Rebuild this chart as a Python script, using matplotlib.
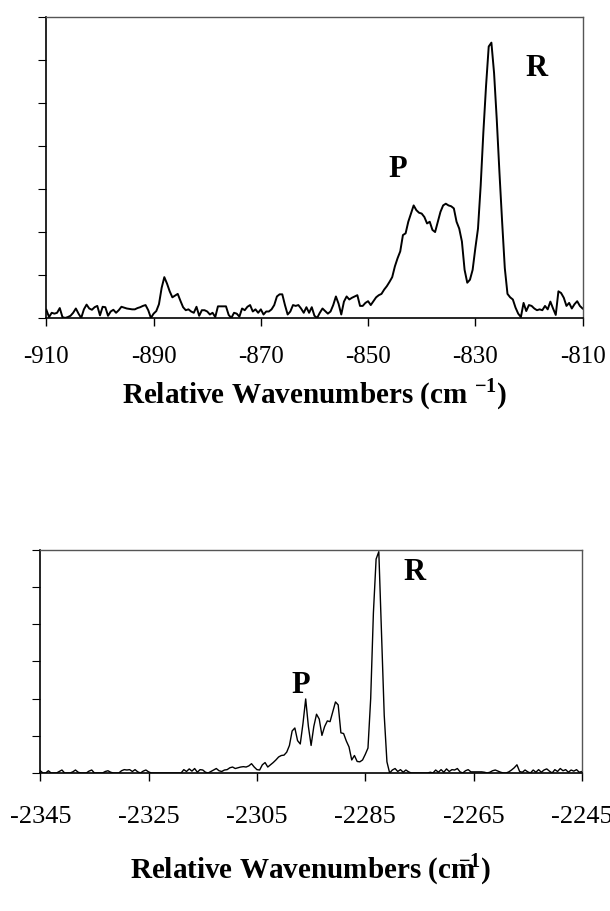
'''
two rovibrational band spectra, P and R branches
stacked panels, relative wavenumber axis
'''
import numpy as np
import matplotlib
matplotlib.use("Agg")
from matplotlib import pyplot as plt

plt.rcParams['font.family'] = ['Liberation Serif', 'DejaVu Serif']
plt.rcParams['mathtext.fontset'] = 'custom'
plt.rcParams['mathtext.rm'] = 'Liberation Serif'
plt.rcParams['mathtext.bf'] = 'Liberation Serif:bold'

# ---- upper band (-910 .. -810 cm-1), 0.5 cm-1 steps
top_start, top_stop, top_step = -910.0, -810.0, 0.5
top_vals = [
    0.19, 0.02, 0.12, 0.10, 0.12, 0.23, 0.02, 0.00, 0.02, 0.05,
    0.12, 0.22, 0.10, 0.00, 0.20, 0.31, 0.22, 0.19, 0.25, 0.28,
    0.06, 0.26, 0.25, 0.05, 0.15, 0.19, 0.12, 0.18, 0.26, 0.24,
    0.22, 0.21, 0.20, 0.20, 0.23, 0.25, 0.28, 0.30, 0.18, 0.00,
    0.10, 0.16, 0.32, 0.70, 0.95, 0.80, 0.62, 0.48, 0.52, 0.56,
    0.40, 0.25, 0.18, 0.20, 0.15, 0.12, 0.26, 0.05, 0.18, 0.18,
    0.15, 0.08, 0.12, 0.02, 0.27, 0.27, 0.27, 0.27, 0.07, 0.00,
    0.12, 0.10, 0.03, 0.22, 0.18, 0.26, 0.30, 0.15, 0.20, 0.12,
    0.20, 0.08, 0.15, 0.15, 0.20, 0.30, 0.50, 0.55, 0.55, 0.30,
    0.08, 0.15, 0.30, 0.28, 0.30, 0.22, 0.12, 0.25, 0.12, 0.25,
    0.05, 0.00, 0.12, 0.22, 0.16, 0.10, 0.15, 0.30, 0.50, 0.33,
    0.08, 0.38, 0.50, 0.43, 0.47, 0.50, 0.53, 0.28, 0.28, 0.35,
    0.39, 0.30, 0.39, 0.48, 0.53, 0.56, 0.66, 0.74, 0.84, 0.95,
    1.20, 1.39, 1.55, 1.93, 1.97, 2.24, 2.43, 2.62, 2.51, 2.45,
    2.43, 2.35, 2.20, 2.24, 2.05, 2.00, 2.24, 2.47, 2.62, 2.66,
    2.62, 2.60, 2.55, 2.24, 2.08, 1.78, 1.12, 0.82, 0.89, 1.12,
    1.62, 2.08, 3.08, 4.32, 5.40, 6.32, 6.41, 5.70, 4.62, 3.39,
    2.24, 1.16, 0.56, 0.48, 0.43, 0.24, 0.10, 0.02, 0.35, 0.16,
    0.30, 0.28, 0.22, 0.18, 0.20, 0.18, 0.28, 0.20, 0.38, 0.22,
    0.07, 0.62, 0.58, 0.47, 0.28, 0.35, 0.22, 0.32, 0.39, 0.28,
    0.22,
]
top_ticks = [-910, -890, -870, -850, -830, -810]

# ---- lower band (-2345 .. -2245 cm-1), 0.5 cm-1 steps
bot_start, bot_stop, bot_step = -2345.0, -2245.0, 0.5
bot_vals = [
    0.06, 0.00, 0.00, 0.06, 0.00, 0.00, 0.00, 0.04, 0.08, 0.00,
    0.00, 0.00, 0.03, 0.08, 0.02, 0.00, 0.00, 0.00, 0.05, 0.08,
    0.00, 0.00, 0.00, 0.00, 0.04, 0.06, 0.02, 0.00, 0.00, 0.00,
    0.06, 0.09, 0.08, 0.09, 0.04, 0.09, 0.03, 0.00, 0.05, 0.08,
    0.03, 0.00, 0.00, 0.00, 0.00, 0.00, 0.00, 0.00, 0.00, 0.00,
    0.00, 0.00, 0.00, 0.09, 0.04, 0.11, 0.05, 0.12, 0.02, 0.09,
    0.08, 0.02, 0.00, 0.04, 0.08, 0.12, 0.06, 0.04, 0.08, 0.09,
    0.14, 0.16, 0.12, 0.14, 0.16, 0.17, 0.16, 0.19, 0.25, 0.16,
    0.09, 0.08, 0.22, 0.28, 0.16, 0.22, 0.28, 0.35, 0.43, 0.47,
    0.48, 0.56, 0.74, 1.13, 1.21, 0.87, 0.78, 1.33, 1.99, 1.25,
    0.74, 1.25, 1.58, 1.45, 1.01, 1.25, 1.40, 1.38, 1.64, 1.91,
    1.83, 1.08, 1.06, 0.86, 0.70, 0.35, 0.47, 0.31, 0.30, 0.35,
    0.50, 0.67, 2.00, 4.30, 5.75, 5.95, 3.75, 1.55, 0.30, 0.00,
    0.08, 0.12, 0.04, 0.09, 0.02, 0.08, 0.03, 0.00, 0.00, 0.00,
    0.00, 0.00, 0.00, 0.00, 0.02, 0.00, 0.08, 0.02, 0.09, 0.02,
    0.11, 0.04, 0.09, 0.08, 0.12, 0.03, 0.00, 0.06, 0.09, 0.03,
    0.03, 0.03, 0.03, 0.03, 0.02, 0.00, 0.02, 0.06, 0.08, 0.05,
    0.02, 0.00, 0.00, 0.03, 0.08, 0.14, 0.22, 0.04, 0.02, 0.08,
    0.03, 0.00, 0.08, 0.02, 0.09, 0.02, 0.08, 0.11, 0.05, 0.00,
    0.09, 0.04, 0.12, 0.06, 0.09, 0.02, 0.08, 0.05, 0.09, 0.02,
    0.04,
]
bot_ticks = [-2345, -2325, -2305, -2285, -2265, -2245]

xlabel_top = r'Relative Wavenumbers (cm $^{\mathbf{-1}}$)'
xlabel_bot = r'Relative Wavenumbers (cm$^{\!\!\!\!\!\mathbf{-1}}$)'

x_top = np.arange(top_start, top_stop + top_step / 2, top_step)
x_bot = np.arange(bot_start, bot_stop + bot_step / 2, bot_step)


def style_axes(ax, xlim, xticks, ymax, pad, fs):
    ax.set_xlim(xlim)
    ax.set_ylim(0, ymax)
    ax.set_xticks(xticks)
    ax.set_xticklabels([str(t) for t in xticks], fontsize=fs)
    ax.set_yticks(range(0, ymax + 1))
    ax.set_yticklabels([])
    ax.tick_params(axis='x', direction='out', length=6, width=1, pad=pad)
    ax.tick_params(axis='y', direction='out', length=6, width=0.8)
    for s in ['left', 'bottom']:
        ax.spines[s].set_linewidth(1.2)
        ax.spines[s].set_color('black')
    for s in ['top', 'right']:
        ax.spines[s].set_linewidth(1.0)
        ax.spines[s].set_color('#555555')


fig = plt.figure(figsize=(6.10, 9.11), dpi=100)

# upper panel
ax1 = fig.add_axes([0.076, 0.651, 0.879, 0.330])
ax1.plot(x_top, top_vals, color='black', lw=1.4)
style_axes(ax1, (top_start, top_stop), top_ticks, 7, 14, 18)
ax1.set_xlabel(xlabel_top, fontsize=21, fontweight='bold', labelpad=6)
ax1.text(-844.5, 3.45, 'P', fontsize=22, fontweight='bold', ha='center', va='center')
ax1.text(-818.5, 5.8, 'R', fontsize=22, fontweight='bold', ha='center', va='center')

# lower panel
ax2 = fig.add_axes([0.066, 0.1515, 0.888, 0.245])
ax2.plot(x_bot, bot_vals, color='black', lw=1.0)
style_axes(ax2, (bot_start, bot_stop), bot_ticks, 6, 18, 19)
ax2.set_xlabel(xlabel_bot, fontsize=21, fontweight='bold', labelpad=17)
ax2.text(-2297.0, 2.35, 'P', fontsize=22, fontweight='bold', ha='center', va='center')
ax2.text(-2276.0, 5.4, 'R', fontsize=22, fontweight='bold', ha='center', va='center')

plt.savefig('out.png', dpi=100)
plt.close()
